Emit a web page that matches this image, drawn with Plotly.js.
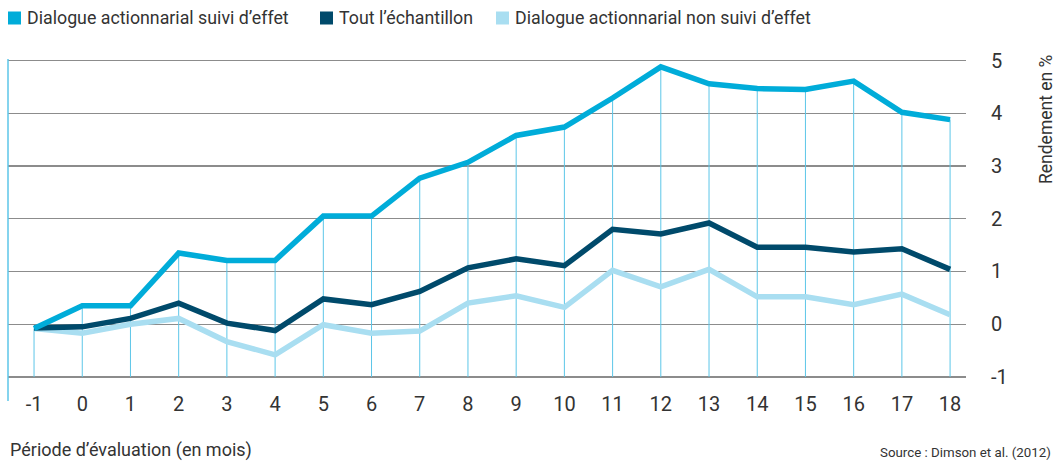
<!DOCTYPE html>
<html>
<head>
<meta charset="utf-8">
<script src="https://cdn.plot.ly/plotly-3.0.1.min.js"></script>
<style>
  html, body { margin: 0; padding: 0; background: #fff; }
  #chart { width: 1057px; height: 461px; }
</style>
</head>
<body>
<div id="chart"></div>
<script>
// Période d'évaluation (mois)
const mois = [-1, 0, 1, 2, 3, 4, 5, 6, 7, 8, 9, 10, 11, 12, 13, 14, 15, 16, 17, 18];

// Rendement en %
const suiviEffet = [-0.08, 0.35, 0.35, 1.35, 1.21, 1.21, 2.05, 2.05, 2.77, 3.07, 3.58, 3.74, 4.29, 4.88, 4.56, 4.47, 4.45, 4.61, 4.02, 3.88];
const toutEchantillon = [-0.07, -0.05, 0.11, 0.40, 0.02, -0.12, 0.48, 0.37, 0.62, 1.07, 1.24, 1.11, 1.80, 1.71, 1.92, 1.46, 1.46, 1.37, 1.43, 1.04];
const nonSuiviEffet = [-0.08, -0.17, 0.00, 0.11, -0.33, -0.58, -0.01, -0.17, -0.13, 0.40, 0.54, 0.32, 1.02, 0.71, 1.04, 0.52, 0.52, 0.37, 0.57, 0.18];

const noms = ['Dialogue actionnarial suivi d’effet', 'Tout l’échantillon', 'Dialogue actionnarial non suivi d’effet'];
const couleurs = ['#00acd9', '#004a6b', '#a9def1'];
const yTicks = [-1, 0, 1, 2, 3, 4, 5];

const police = 'Roboto, "Open Sans", sans-serif';

// zone de tracé en pixels
const L = 8, R = 966, T = 59, B = 388;
const W = 1057, H = 461;
const px = x => (x - L) / (R - L);
const py = y => (B - y) / (B - T);

// traits verticaux: du bas (-1) jusqu'à la courbe du haut
const vx = [], vy = [];
mois.forEach((m, i) => {
    vx.push(m, m, null);
    vy.push(-1, suiviEffet[i], null);
});

const traces = [
    { x: vx, y: vy, mode: 'lines', type: 'scatter', line: { color: '#5cc6e8', width: 1 }, showlegend: false, hoverinfo: 'skip' }
];

// courbes (clair, foncé, puis suivi d'effet au-dessus)
const series = [suiviEffet, toutEchantillon, nonSuiviEffet];
[2, 1, 0].forEach(k => {
    traces.push({
        x: mois, y: series[k], mode: 'lines', type: 'scatter', name: noms[k],
        line: { color: couleurs[k], width: 5.5 },
        showlegend: false
    });
});

// légende: carrés + textes
const legX = [8, 320, 496];
const shapes = [
    { type: 'line', xref: 'paper', yref: 'paper', x0: 0, x1: 0, y0: py(401), y1: 1, line: { color: '#5cc6e8', width: 1.5 } }
];
const annotations = [];
legX.forEach((x0, k) => {
    shapes.push({ type: 'rect', xref: 'paper', yref: 'paper', x0: px(x0), x1: px(x0 + 13), y0: py(24.5), y1: py(11.5),
                  line: { width: 0 }, fillcolor: couleurs[k] });
    annotations.push({ text: noms[k], xref: 'paper', yref: 'paper', x: px(x0 + 17), y: py(18),
                       xanchor: 'left', yanchor: 'middle', showarrow: false,
                       font: { size: 17.8, color: '#333' } });
});

annotations.push(
    { text: 'Rendement en %', textangle: -90, xref: 'paper', yref: 'paper', x: px(1046), y: py(119),
      xanchor: 'center', yanchor: 'middle', showarrow: false, font: { size: 17.5, color: '#333' } },
    { text: 'Période d’évaluation (en mois)', xref: 'paper', yref: 'paper', x: px(8), y: py(450),
      xanchor: 'left', yanchor: 'middle', showarrow: false, font: { size: 18, color: '#333' } },
    { text: 'Source : Dimson et al. (2012)', xref: 'paper', yref: 'paper', x: px(1053), y: py(452),
      xanchor: 'right', yanchor: 'middle', showarrow: false, font: { size: 13.3, color: '#333' } }
);

const layout = {
    width: W,
    height: H,
    margin: { l: L, r: W - R, t: T, b: H - B },
    paper_bgcolor: '#fff',
    plot_bgcolor: '#fff',
    font: { family: police, color: '#333' },
    showlegend: false,
    xaxis: {
        range: [-1.54, 18.33],
        tickvals: mois,
        ticktext: mois.map(String),
        showgrid: false, zeroline: false, showline: false,
        ticks: '', ticklabelstandoff: 2,
        tickfont: { size: 20, color: '#333' }
    },
    yaxis: {
        range: [-1.21, 5.03],
        side: 'right',
        tickvals: yTicks,
        ticktext: yTicks.map(String),
        showgrid: true, gridcolor: '#8c8c8c', gridwidth: 1.3,
        zeroline: false, showline: false,
        ticks: '', ticklabelstandoff: 24,
        tickfont: { size: 20, color: '#333' }
    },
    shapes: shapes,
    annotations: annotations
};

Plotly.newPlot('chart', traces, layout, { displayModeBar: false, staticPlot: true });
</script>
</body>
</html>
